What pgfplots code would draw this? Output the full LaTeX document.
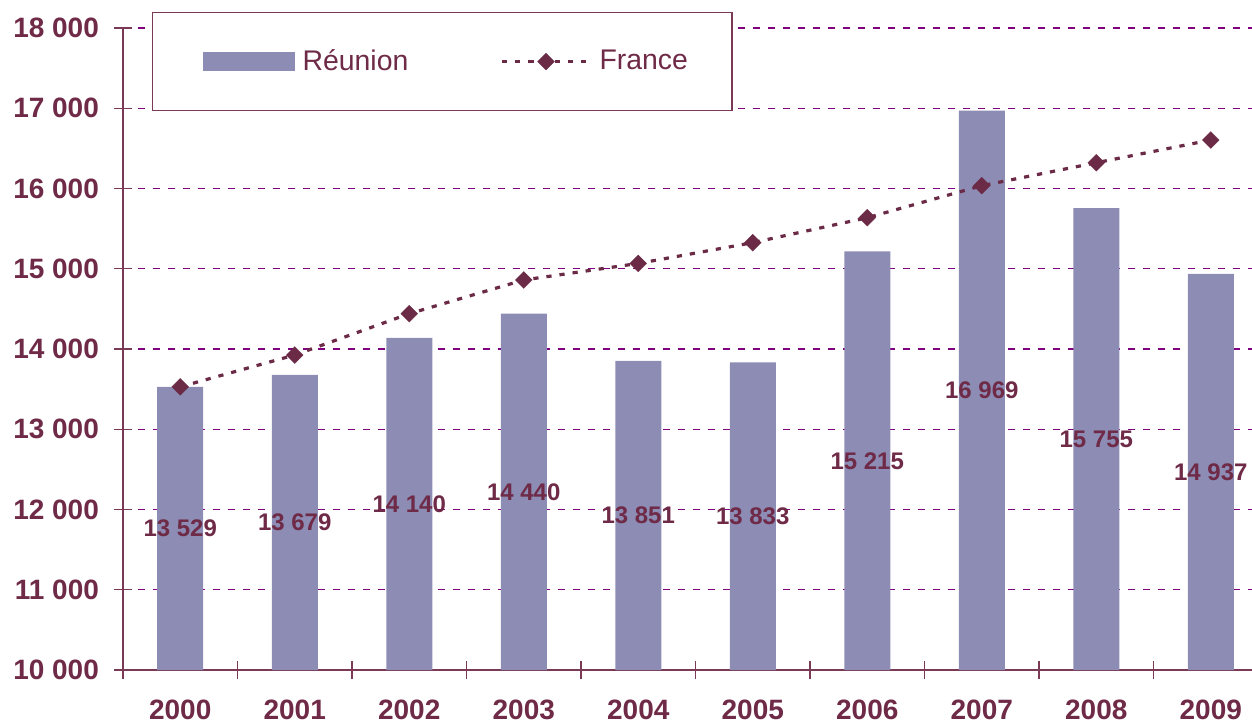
\documentclass[border=0pt]{standalone}
\usepackage{fontspec}
\setmainfont{Liberation Sans}
\usepackage{pgfplots}
\pgfplotsset{compat=1.18}
\usepackage{pgfplotstable}
\definecolor{txt}{RGB}{110,42,70}
\definecolor{barc}{RGB}{140,140,180}
\definecolor{gridc}{RGB}{128,0,128}
\definecolor{axc}{RGB}{122,58,85}
\definecolor{linec}{RGB}{107,42,69}

\tikzset{
  francestyle/.style={draw=linec, line width=1.6pt, dash pattern=on 2.6pt off 4pt,
    mark=square*, mark size=3pt,
    mark options={rotate=45, solid, fill=linec, draw=linec, line width=0.1pt}},
}
\pgfplotsset{
  barlegend/.style={legend image code/.code={\path (0pt,0pt) (53pt,0pt); \fill[barc] (5pt,-4.75pt) rectangle (51pt,4.75pt);}},
  linelegend/.style={legend image code/.code={\path (0pt,0pt) (46pt,0pt); \draw[francestyle, mark repeat=2, mark phase=2] plot coordinates {(0pt,0pt) (22pt,0pt) (44pt,0pt)};}},
}

\pgfplotstableread{
x r f
0 13529 13529
1 13679 13925
2 14140 14440
3 14440 14860
4 13851 15066
5 13833 15325
6 15215 15636
7 16969 16035
8 15755 16321
9 14937 16604
}\data

\begin{document}
\begin{tikzpicture}[font=\fontsize{12.8}{15}\selectfont]
\begin{axis}[
  scale only axis, width=564.5pt, height=321pt,
  xmin=-0.5, xmax=9.36, ymin=10000, ymax=18000,
  axis x line*=bottom, axis y line*=left,
  axis line style={draw=axc, line width=0.7pt},
  ytick={10000,11000,...,18000},
  scaled y ticks=false,
  xtick={0,...,9},
  xticklabels={2000,2001,2002,2003,2004,2005,2006,2007,2008,2009},
  minor xtick={-0.5,0.5,...,8.5},
  major x tick style={draw=none},
  tick style={draw=axc, line width=0.7pt},
  tick align=center,
  major tick length=9pt, minor tick length=9pt,
  /pgf/number format/1000 sep={\ },
  /pgf/number format/assume math mode=true,
  ticklabel style={font=\fontsize{14}{16}\selectfont\bfseries, text=txt},
  yticklabel style={xshift=-4pt},
  xticklabel style={inner sep=0pt, text depth=0pt, yshift=-10.2pt},
  ymajorgrids,
  major grid style={draw=gridc, line width=0.6pt, dash pattern=on 3.3pt off 4.2pt},
  legend columns=2,
  legend style={at={(rel axis cs:0,1)}, anchor=north west, xshift=14.5pt, yshift=8pt,
    draw=axc, line width=0.6pt, fill=white,
    inner xsep=20pt, inner ysep=16.5pt,
    font=\fontsize{14.2}{16}\selectfont, text=txt,
    nodes={inner sep=2pt},
    /tikz/every even column/.append style={column sep=44pt}},
  clip=true,
]
\addplot[ybar, bar width=23pt, fill=barc, draw=none, barlegend]
  table[x=x, y=r] {\data};
\addlegendentry{Réunion}
\addplot[francestyle, linelegend]
  table[x=x, y=f] {\data};
\addlegendentry{France}
\addplot[draw=none, mark=none, forget plot, nodes near coords, point meta=explicit,
  nodes near coords style={font=\fontsize{12}{14}\selectfont\bfseries, text=txt, anchor=center}]
  table[x=x, y expr=(\thisrow{r}+10000)/2, meta=r] {\data};
\end{axis}
\pgfresetboundingbox
\path ([xshift=-61.5pt,yshift=-26pt]current axis.south west) rectangle ([yshift=14pt]current axis.north east);
\end{tikzpicture}
\end{document}
